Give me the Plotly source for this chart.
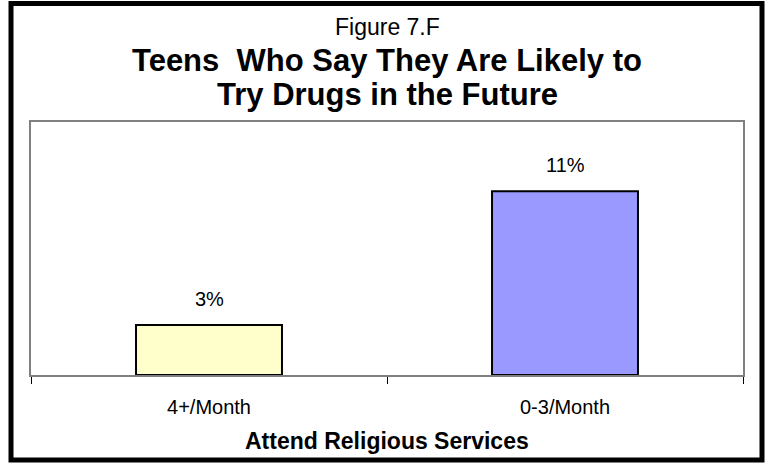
import plotly.graph_objects as go

categories = ["4+/Month", "0-3/Month"]
values = [3, 11]
value_labels = ["3%", "11%"]
bar_colors = ["#FFFFCC", "#9999FF"]
figure_label = "Figure 7.F"
title_lines = ["Teens  Who Say They Are Likely to", "Try Drugs in the Future"]
x_title = "Attend Religious Services"

FONT = "Liberation Sans, Arial, sans-serif"
W, H = 768, 463
L, R, T, B = 31, 743, 122, 375  # plot area pixels


def px_x(p):
    return (p - L) / (R - L)


def px_y(p):
    return (B - p) / (B - T)


fig = go.Figure()
fig.add_trace(go.Bar(
    x=categories, y=values, width=0.41,
    marker=dict(color=bar_colors, line=dict(color="black", width=2)),
    hoverinfo="skip",
))

ann = []
for c, v, t in zip(categories, values, value_labels):
    ann.append(dict(x=c, y=v, xref="x", yref="y", text=t, showarrow=False,
                    yanchor="middle", yshift=26,
                    font=dict(family=FONT, size=20, color="black")))
ann.append(dict(x=0.5, y=px_y(27), xref="paper", yref="paper", text=figure_label,
                showarrow=False, yanchor="middle",
                font=dict(family=FONT, size=23, color="black")))
for i, (line, py) in enumerate(zip(title_lines, [60, 95])):
    ann.append(dict(x=0.5, y=px_y(py), xref="paper", yref="paper",
                    text="<b>" + line + "</b>", showarrow=False, yanchor="middle",
                    font=dict(family=FONT, size=31, color="black")))
ann.append(dict(x=0.5, y=px_y(441), xref="paper", yref="paper",
                text="<b>" + x_title + "</b>", showarrow=False, yanchor="middle",
                font=dict(family=FONT, size=23, color="black")))

fig.update_layout(
    width=W, height=H,
    margin=dict(l=L, r=W - R, t=T, b=H - B, pad=0),
    paper_bgcolor="white", plot_bgcolor="white",
    showlegend=False,
    annotations=ann,
    shapes=[dict(type="rect", xref="paper", yref="paper",
                 x0=px_x(11), x1=px_x(762), y0=px_y(460), y1=px_y(3.5),
                 line=dict(color="black", width=5), layer="above")],
    xaxis=dict(type="category", range=[-0.5, 1.5], showline=True, mirror=True,
               linecolor="#808080", linewidth=2, ticks="outside", tickson="boundaries",
               ticklen=7, tickcolor="black", tickwidth=1, showgrid=False,
               tickfont=dict(family=FONT, size=20, color="black"),
               ticklabelstandoff=13),
    yaxis=dict(range=[0, 15.15], showline=True, mirror=True, linecolor="#808080",
               linewidth=2, showticklabels=False, showgrid=False, zeroline=False,
               ticks=""),
)

fig.write_html("out.html", config={"displayModeBar": False},
               post_script="document.body.style.margin='0';document.body.style.overflow='hidden';")
